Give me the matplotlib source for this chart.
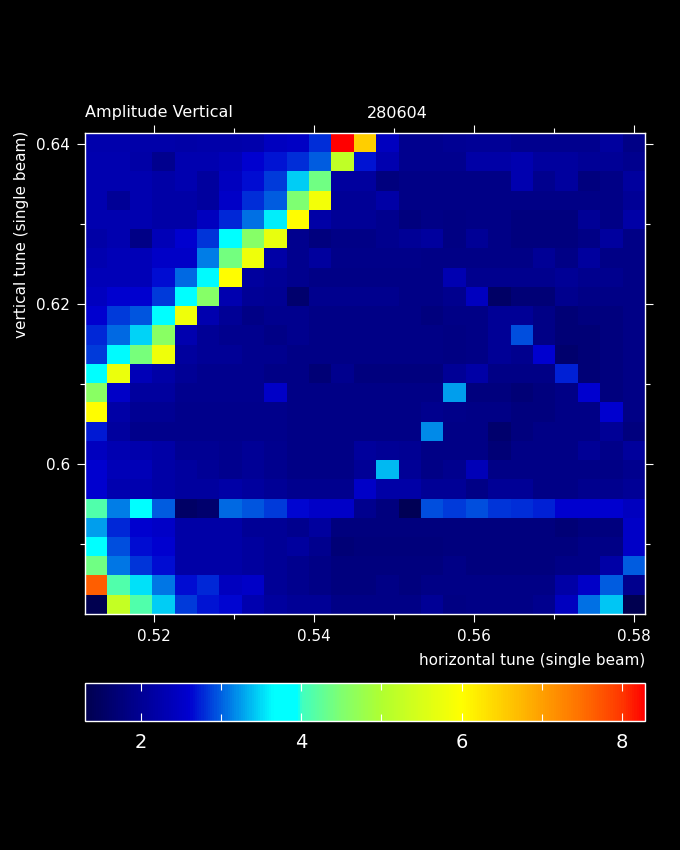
import numpy as np
import matplotlib
matplotlib.use("Agg")
import matplotlib.pyplot as plt
from matplotlib.colors import LinearSegmentedColormap, Normalize
from matplotlib.ticker import FixedLocator

# ---- data (rows listed from top = highest vertical tune) ----
x_start, x_step = 0.5114, 0.0028   # horizontal tune grid
y_start, y_step = 0.5813, 0.0024   # vertical tune grid
n_cols, n_rows = 25, 25

row00 = [2.24,2.24,2.22,2.22,2.20,2.22,2.22,2.24,2.44,2.50,2.80,8.29,6.50,2.44,1.96,1.96,2.00,2.04,2.04,1.96,1.96,1.96,1.96,2.12,1.87]
row01 = [2.28,2.28,2.20,1.96,2.28,2.28,2.36,2.60,2.70,2.80,3.00,5.20,2.70,2.28,1.96,1.96,1.96,2.20,2.20,2.28,2.12,2.12,2.04,2.04,1.96]
row02 = [2.28,2.28,2.28,2.20,2.28,2.12,2.44,2.67,2.86,3.46,4.38,2.12,2.12,1.79,1.87,1.87,1.87,1.87,1.87,2.28,1.96,2.12,1.79,1.87,2.12]
row03 = [2.28,2.04,2.28,2.20,2.20,2.12,2.52,2.80,3.00,4.50,5.85,2.04,2.04,2.20,1.87,1.87,1.87,1.87,1.87,1.87,1.87,1.87,1.87,1.87,2.04]
row04 = [2.28,2.28,2.28,2.20,2.20,2.44,2.76,3.06,3.60,6.00,2.20,2.04,2.04,1.96,1.79,1.87,1.83,1.87,1.87,1.79,1.79,1.79,2.04,1.87,2.20]
row05 = [2.20,2.28,1.87,2.36,2.60,2.83,3.80,4.57,5.70,1.96,1.79,1.87,1.87,1.96,2.04,2.12,1.83,2.04,1.87,1.79,1.79,1.79,1.87,2.12,1.87]
row06 = [2.28,2.36,2.36,2.52,2.52,3.13,4.40,5.80,2.20,1.96,2.12,1.90,1.90,1.90,1.90,1.87,1.87,1.87,1.87,1.87,2.04,1.87,2.12,1.87,1.87]
row07 = [2.36,2.36,2.36,2.65,3.03,3.65,6.00,2.12,2.04,1.96,1.87,1.87,1.87,1.87,1.87,1.87,2.30,1.96,1.96,1.96,1.96,2.04,1.96,1.96,1.87]
row08 = [2.44,2.60,2.60,2.86,3.80,4.57,2.28,2.04,2.00,1.63,1.96,1.96,1.96,1.96,1.87,1.87,1.96,2.44,1.55,1.71,1.71,1.96,1.87,1.87,1.87]
row09 = [2.60,2.86,2.96,3.80,5.80,2.28,2.04,1.87,1.96,1.96,1.87,1.87,1.87,1.87,1.87,1.79,1.87,1.87,2.04,2.04,1.87,1.71,1.79,1.79,1.87]
row10 = [2.76,3.03,3.49,4.60,2.28,2.04,1.96,1.96,1.87,1.96,1.87,1.87,1.87,1.87,1.87,1.87,1.83,1.87,2.04,2.93,1.87,1.71,1.71,1.79,1.87]
row11 = [2.86,3.65,4.44,5.80,2.12,2.04,2.04,1.96,1.95,1.87,1.87,1.87,1.87,1.87,1.87,1.87,1.83,1.87,2.04,1.96,2.60,1.63,1.71,1.79,1.87]
row12 = [3.80,5.75,2.36,2.20,2.04,1.96,1.96,1.96,1.87,1.87,1.71,1.96,1.79,1.79,1.79,1.79,2.04,2.20,1.87,1.87,1.87,2.73,1.71,1.79,1.87]
row13 = [4.60,2.52,2.12,2.12,1.96,1.96,1.96,1.96,2.52,1.87,1.87,1.87,1.87,1.87,1.87,1.87,3.26,1.79,1.79,1.71,1.79,1.87,2.60,1.79,1.87]
row14 = [6.00,2.20,2.00,2.00,1.92,1.92,1.92,1.92,1.92,1.87,1.87,1.87,1.87,1.87,1.87,1.96,1.90,1.87,1.87,1.79,1.79,1.87,1.87,2.60,1.87]
row15 = [2.72,2.12,1.93,1.93,1.93,1.93,1.93,1.93,1.93,1.87,1.87,1.87,1.87,1.87,1.87,3.19,1.87,1.87,1.63,1.79,1.87,1.87,1.87,2.04,1.79]
row16 = [2.44,2.30,2.25,2.20,2.00,2.00,1.96,2.04,1.96,1.87,1.87,1.87,2.08,2.04,2.00,1.87,1.87,1.87,1.71,1.87,1.87,1.87,2.04,1.90,2.08]
row17 = [2.60,2.36,2.36,2.20,2.12,2.04,1.96,2.04,1.96,1.87,1.87,1.87,2.04,3.36,2.04,1.87,1.96,2.36,1.87,1.87,1.87,1.87,1.87,1.87,1.96]
row18 = [2.60,2.28,2.28,2.20,2.12,2.12,2.20,2.12,2.04,1.96,1.96,1.96,2.52,2.20,2.20,2.04,2.04,1.87,2.04,2.04,1.87,1.87,1.96,1.96,2.04]
row19 = [4.12,3.13,3.80,3.00,1.55,1.63,3.03,2.96,2.86,2.63,2.52,2.52,1.96,1.79,1.39,2.93,2.86,2.93,2.83,2.80,2.73,2.60,2.60,2.60,2.44]
row20 = [3.26,2.76,2.60,2.52,2.20,2.20,2.20,2.04,2.04,1.96,2.12,1.79,1.79,1.79,1.79,1.79,1.79,1.79,1.79,1.79,1.79,1.71,1.79,1.79,2.52]
row21 = [3.93,2.93,2.67,2.60,2.20,2.20,2.20,2.12,2.04,2.12,1.96,1.71,1.75,1.75,1.75,1.75,1.79,1.79,1.79,1.79,1.79,1.79,1.87,1.87,2.52]
row22 = [4.38,3.09,2.83,2.67,2.20,2.20,2.20,2.12,2.04,1.96,1.87,1.79,1.79,1.79,1.79,1.79,1.87,1.79,1.79,1.79,1.79,1.87,1.87,2.20,3.00]
row23 = [7.65,4.12,3.52,3.09,2.67,2.76,2.44,2.52,2.04,1.96,1.87,1.79,1.79,1.87,1.79,1.87,1.87,1.87,1.87,1.87,1.87,2.20,2.52,3.00,1.96]
row24 = [1.25,5.25,4.12,3.46,2.86,2.70,2.63,2.28,2.12,2.04,2.04,1.87,1.87,1.87,1.87,2.04,1.83,1.87,1.87,1.87,1.96,2.44,3.06,3.42,1.31]

amplitude = np.array([row00,row01,row02,row03,row04,row05,row06,row07,row08,row09,
                      row10,row11,row12,row13,row14,row15,row16,row17,row18,row19,
                      row20,row21,row22,row23,row24])

x_major = [0.52, 0.54, 0.56, 0.58]
x_minor = [0.53, 0.55, 0.57]
y_major = [0.60, 0.62, 0.64]
y_minor = [0.59, 0.61, 0.63]
x_labels = ["0.52", "0.54", "0.56", "0.58"]
y_labels = ["0.6", "0.62", "0.64"]
cb_major = [2, 4, 6, 8]
cb_minor = [3, 5, 7]
vmin, vmax = 1.31, 8.29

# ---- colormap ----
anchors = [(1.31, "#000050"), (2.60, "#0000D0"), (3.65, "#00FFFF"), (3.95, "#00FFFF"),
           (4.0, "#40FFC0"), (4.5, "#80FF70"), (5.0, "#B0FF30"), (5.5, "#D8FF18"),
           (6.0, "#FFFF00"), (6.5, "#FFD000"), (7.0, "#FFA000"), (7.5, "#FF7000"),
           (8.0, "#FF3800"), (8.29, "#FF0000")]
cmap = LinearSegmentedColormap.from_list(
    "amp", [((v - vmin) / (vmax - vmin), c) for v, c in anchors], N=256)
norm = Normalize(vmin, vmax)

W, H = 680, 850
fig = plt.figure(figsize=(W / 100, H / 100), dpi=100, facecolor="black")
ax = fig.add_axes([85.3 / W, 1 - 613.7 / H, 559.7 / W, 480.4 / H])
ax.set_facecolor("black")

x0 = x_start
x1 = x_start + n_cols * x_step
y0 = y_start
y1 = y_start + n_rows * y_step
im = ax.imshow(amplitude, extent=(x0, x1, y0, y1), origin="upper", aspect="auto",
               interpolation="nearest", cmap=cmap, norm=norm)
ax.set_xlim(x0, x1)
ax.set_ylim(y0, y1)

ax.xaxis.set_major_locator(FixedLocator(x_major))
ax.xaxis.set_minor_locator(FixedLocator(x_minor))
ax.yaxis.set_major_locator(FixedLocator(y_major))
ax.yaxis.set_minor_locator(FixedLocator(y_minor))
ax.set_xticklabels(x_labels)
ax.set_yticklabels(y_labels)
ax.tick_params(which="both", direction="out", colors="white", top=True, right=True,
               width=0.8, labelsize=11)
ax.tick_params(which="major", length=6)
ax.tick_params(which="minor", length=3.5)
ax.tick_params(axis="x", pad=5)
ax.tick_params(axis="y", pad=5)
for s in ax.spines.values():
    s.set_color("white")
    s.set_linewidth(1.0)

fig.text(85 / W, 1 - 117.5 / H, "Amplitude Vertical", color="white", fontsize=11.5,
         ha="left", va="baseline")
fig.text(366.7 / W, 1 - 117.5 / H, "280604", color="white", fontsize=11.5,
         ha="left", va="baseline")
fig.text(645 / W, 1 - 661 / H, "horizontal tune (single beam)", color="white",
         fontsize=11, ha="right", va="center")
fig.text(22 / W, 1 - 131 / H, "vertical tune (single beam)", color="white",
         fontsize=11, ha="center", va="top", rotation=90)

cax = fig.add_axes([85.4 / W, 1 - 721 / H, 560 / W, 38 / H])
cb = fig.colorbar(im, cax=cax, orientation="horizontal")
cb.outline.set_edgecolor("white")
cb.outline.set_linewidth(1.0)
cax.xaxis.set_major_locator(FixedLocator(cb_major))
cax.xaxis.set_minor_locator(FixedLocator(cb_minor))
cax.tick_params(which="both", direction="in", colors="white", top=True, bottom=True,
                width=0.8, labelsize=14, pad=9)
cax.tick_params(which="major", length=6)
cax.tick_params(which="minor", length=5)

fig.savefig("out.png", dpi=100, facecolor="black")
